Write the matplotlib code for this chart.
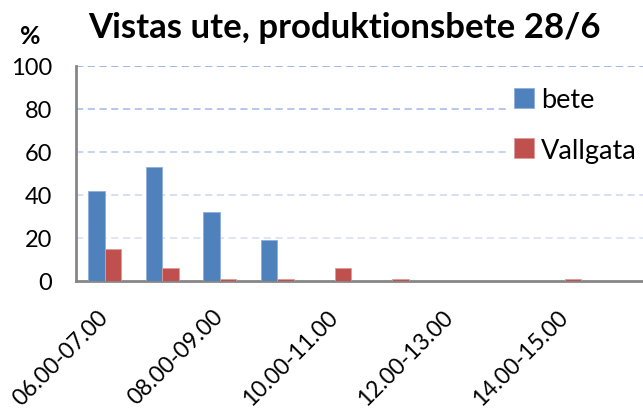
import matplotlib
matplotlib.use("Agg")
import matplotlib.pyplot as plt
import numpy as np

categories = ["06.00-07.00", "07.00-08.00", "08.00-09.00", "09.00-10.00", "10.00-11.00",
              "11.00-12.00", "12.00-13.00", "13.00-14.00", "14.00-15.00", "15.00-16.00"]
bete = [42, 53, 32, 19, 0, 0, 0, 0, 0, 0]
vallgata = [15, 6, 1, 1, 6, 1, 0, 0, 1, 0]
yticks = [0, 20, 40, 60, 80, 100]
title = "Vistas ute, produktionsbete 28/6"

plt.rcParams['font.family'] = ['Lato', 'DejaVu Sans']

W, H = 643, 414
fig = plt.figure(figsize=(W / 100, H / 100), dpi=100)
ax = fig.add_axes([76 / W, (H - 282) / H, 575 / W, 215 / H])

x = np.arange(len(categories))
bw = 0.288
ax.bar(x - bw / 2, bete, bw, color='#4f81bd', edgecolor='#8eaede', linewidth=0.6, label='bete', zorder=3)
ax.bar(x + bw / 2, vallgata, bw, color='#c0504d', edgecolor='#e09a98', linewidth=0.6, label='Vallgata', zorder=3)

ax.set_xlim(-0.5, len(categories) - 0.5)
ax.set_ylim(0, 100)
ax.tick_params(axis='y', length=0, pad=17, labelsize=17)
ax.tick_params(axis='x', length=0, pad=23, labelsize=16.5)
ax.set_yticks(yticks)
ax.set_yticklabels([str(v) for v in yticks])
grid_cols = {20: '#dbe3f4', 40: '#d3ddf2', 60: '#c2d1ee', 80: '#afc3e9', 100: '#97b2e2'}
for v in yticks[1:]:
    ax.axhline(v, color=grid_cols[v], linestyle=(0, (4, 2.5)), linewidth=1.3, zorder=1)

ax.set_xticks(x[::2])
ax.set_xticklabels(categories[::2], rotation=45, ha='right', va='center',
                   rotation_mode='anchor')

for s in ['top', 'right']:
    ax.spines[s].set_visible(False)
for s in ['left', 'bottom']:
    ax.spines[s].set_color('#868686')
    ax.spines[s].set_linewidth(2)

fig.text(88 / W, 1 - 28 / H, title, fontsize=25, fontweight='bold', ha='left', va='center')
fig.text(30 / W, 1 - 37 / H, "%", fontsize=18, fontweight='bold', ha='center', va='center')

leg = ax.legend(loc='upper left', bbox_to_anchor=(506 / W, 1 - 80 / H), bbox_transform=fig.transFigure,
                frameon=True, fontsize=19.5, handlelength=0.75, handleheight=0.75, handletextpad=0.25,
                labelspacing=0.95, borderpad=0.3, borderaxespad=0)
leg.get_frame().set_facecolor('white')
leg.get_frame().set_edgecolor('none')
leg.get_frame().set_alpha(1)
leg.set_zorder(5)

fig.savefig('out.png', dpi=100)
